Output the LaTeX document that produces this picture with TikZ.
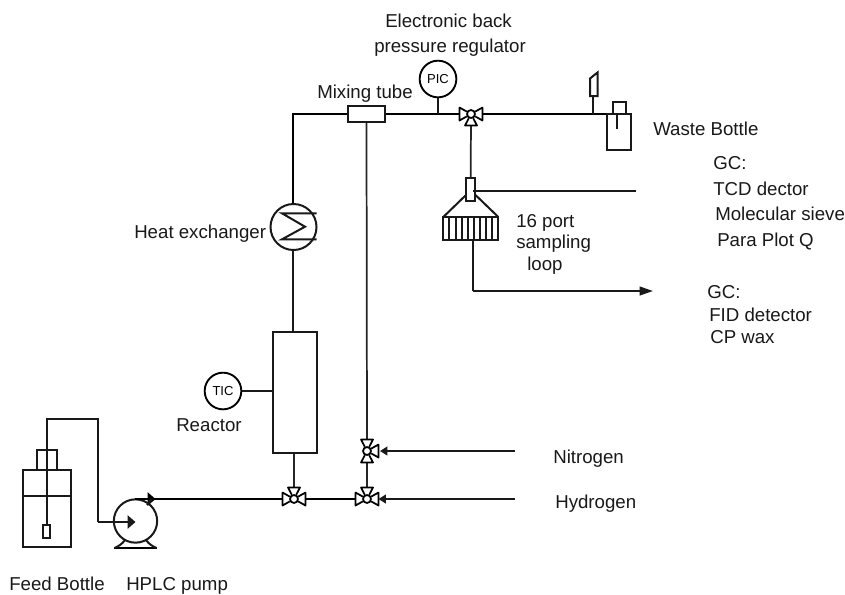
\documentclass[tikz,border=0pt]{standalone}
\usepackage{fontspec}
\setmainfont{Liberation Sans}
\usetikzlibrary{arrows.meta}
\tikzset{
 pipe/.style={line width=1.5pt,draw=black!90},
 thin pipe/.style={line width=1.3pt,draw=black!85},
 thick pipe/.style={line width=1.9pt,draw=black},
 flow/.style={-{Triangle[length=5.5pt,width=6.5pt]}},
 bigflow/.style={-{Triangle[length=6pt,width=10pt]}},
 longflow/.style={-{Triangle[length=10pt,width=6.5pt]}},
 lbl/.style={font=\fontsize{14pt}{16pt}\selectfont,anchor=base west,inner sep=0pt,text=black!90},
 inst/.style={circle,draw=black,line width=1.4pt,minimum size=27.5pt,inner sep=0pt,fill=white,font=\fontsize{9.75pt}{10pt}\selectfont},
 valvepart/.style={line width=1.3pt,draw=black,fill=white,line join=round},
 pics/hub/.style={code={
   \fill[white] (0,0) circle (5);
   \draw[line width=1.3pt] (0,0) circle (4);
 }},
 pics/tleft/.style={code={\draw[valvepart] (0,0)--(-11.5,-6.5)--(-11.5,6.5)--cycle;}},
 pics/tright/.style={code={\draw[valvepart] (0,0)--(11.5,-6.5)--(11.5,6.5)--cycle;}},
 pics/ttop/.style={code={\draw[valvepart] (0,0)--(-6,-11.5)--(6,-11.5)--cycle;}},
 pics/tbottom/.style={code={\draw[valvepart] (0,0)--(-6,11.5)--(6,11.5)--cycle;}},
}
\begin{document}
\begin{tikzpicture}[x=0.75pt,y=-0.75pt]
\useasboundingbox (0,0) rectangle (845,594);
\fill[white] (0,0) rectangle (845,594);
% named points
\coordinate (corner) at (293,114);
\coordinate (vtop) at (471,114);
\coordinate (vN) at (367,451);
\coordinate (vH) at (367,499);
\coordinate (vR) at (294,499);
\coordinate (bottleIn) at (607,114);
\coordinate (ventJ) at (593,114);
\coordinate (picJ) at (438,114);
\coordinate (pumpTop) at (135,499);
\coordinate (pumpOut) at (155.5,499);
\coordinate (n2in) at (515,451);
\coordinate (n2tip) at (380,451);
\coordinate (h2in) at (515,499);
\coordinate (h2tip) at (378.5,499);
\coordinate (tcdStart) at (473,191);
\coordinate (tcdEnd) at (636,191);
\coordinate (fidEnd) at (653,291);
\coordinate (fidBend) at (473.3,291);
\coordinate (fidStart) at (473.3,240);
\node[draw,pipe,minimum width=27.75pt,minimum height=12pt,inner sep=0pt] (mix) at (366.5,114) {};
\node[inst] (pic) at (438,79) {PIC};
\node[circle,draw,pipe,minimum size=34.5pt,inner sep=0pt] (hx) at (293.5,227) {};
\node[draw,pipe,minimum width=33pt,minimum height=90.75pt,inner sep=0pt] (reactor) at (294.7,392) {};
\node[inst] (tic) at (223,391) {TIC};
\node[circle,draw,pipe,minimum size=32.5pt,inner sep=0pt] (pump) at (135.5,521) {};
\node[draw,pipe,minimum width=6.75pt,minimum height=17.25pt,inner sep=0pt] (tube) at (470.7,189.5) {};
\node[draw,pipe,minimum width=41.25pt,minimum height=17.5pt,inner sep=0pt] (loop) at (470.8,228.3) {};
% pipes
\draw[thick pipe] (hx.north -| corner) -- (corner) -- (mix.west);
\draw[thick pipe] (mix.east) -- (vtop) -- (bottleIn);
\draw[pipe] (pic.south) -- (picJ);
\draw[pipe] (hx.south -| corner) -- (reactor.north -| corner);
\draw[pipe] (tic.east) -- (tic.east -| reactor.west);
\draw[thin pipe] (mix.south) -- (vN);
\draw[thin pipe] (vN) -- (vH);
\draw[thin pipe] (reactor.south -| vR) -- (vR);
\draw[thin pipe] (vtop) -- (tube.north);
\draw[thick pipe] (pumpTop) -- (vR) -- (vH);
% flows
\draw[pipe,flow] (h2in) -- (h2tip);
\draw[pipe,flow] (n2in) -- (n2tip);
\draw[thick pipe,bigflow] (pumpTop) -- (pumpOut);
% heat exchanger coil
\coordinate (hxA) at (316.5,213.3); \coordinate (hxB) at (282,213.3);
\coordinate (hxC) at (305,226.7); \coordinate (hxD) at (282,239.3); \coordinate (hxE) at (316.5,239.3);
\draw[pipe,line join=miter] (hxA)--(hxB)--(hxC)--(hxD)--(hxE);
% feed bottle
\node[draw,pipe,minimum width=36pt,minimum height=57.75pt,inner sep=0pt] (bottle) at (46.7,508.5) {};
\node[draw,pipe,minimum width=15pt,minimum height=15pt,inner sep=0pt] (cap) at (46.7,460) {};
\draw[pipe] (bottle.west |- 0,496) -- (bottle.east |- 0,496);
\node[draw,pipe,minimum width=5pt,minimum height=9.5pt,inner sep=0pt] (dip) at (46.7,531.5) {};
\coordinate (feedA) at (46.7,419); \coordinate (feedB) at (98,419); \coordinate (feedC) at (98,522);
\coordinate (feedTip) at (135.5,522);
\draw[pipe] (dip.north) -- (feedA) -- (feedB) -- (feedC);
\draw[pipe,bigflow] (feedC) -- (feedTip);
\draw[thick pipe] (114,548) -- (157,548);
\draw[pipe] (114.5,548) .. controls (119,546) and (122,544) .. (125,540);
\draw[pipe] (156.5,548) .. controls (152,546) and (149,544) .. (146,540);
\draw[pipe] (147,505) -- (152,499);
% waste
\node[draw,pipe,minimum width=18pt,minimum height=27pt,inner sep=0pt] (waste) at (619,132) {};
\node[draw,pipe,minimum width=9.5pt,minimum height=9.5pt,inner sep=0pt] (wcap) at (619.3,108) {};
\coordinate (wdip) at (617,129);
\draw[pipe] (617,114) -- (wdip);
\draw[pipe] (ventJ) -- (593,96);
\draw[pipe,line join=miter] (590,96) -- (597.5,96) -- (597.5,72.5) -- (590,78.5) -- cycle;
% sampling loop
\draw[pipe] (466,195) -- (443.8,216.5);
\draw[pipe] (475.5,195) -- (497.8,216.5);
\draw[pipe] (tcdStart) -- (tcdEnd);
\foreach \x in {449.3,455.5,461.6,467.7,473.8,480,486,492}{\draw[pipe] (\x,217) -- (\x,240);}
\draw[pipe] (fidStart) -- (fidBend);
\draw[pipe,longflow] (fidBend) -- (fidEnd);
% valves
\pic at (vtop) {tleft};
\pic at (vtop) {tright};
\pic at (vtop) {tbottom};
\pic at (vtop) {hub};
\pic at (vN) {ttop};
\pic at (vN) {tbottom};
\pic at (vN) {tright};
\pic at (vN) {hub};
\pic at (vH) {tleft};
\pic at (vH) {tright};
\pic at (vH) {ttop};
\pic at (vH) {hub};
\pic at (vR) {tleft};
\pic at (vR) {tright};
\pic at (vR) {ttop};
\pic at (vR) {hub};
% labels
\node[lbl] (t1) at (385,27) {Electronic back};
\node[lbl] (t2) at (374,52) {pressure regulator};
\node[lbl] (t3) at (317,98) {Mixing tube};
\node[lbl] (t4) at (653,135) {Waste Bottle};
\node[lbl] (t5) at (713,169) {GC:};
\node[lbl] (t6) at (713,195) {TCD dector};
\node[lbl] (t7) at (715,220) {Molecular sieve};
\node[lbl] (t8) at (717,246) {Para Plot Q};
\node[lbl] (t9) at (516,227) {16 port};
\node[lbl] (t10) at (516,248) {sampling};
\node[lbl] (t11) at (527,270) {loop};
\node[lbl] (t12) at (707,298) {GC:};
\node[lbl] (t13) at (709,321) {FID detector};
\node[lbl] (t14) at (710,343) {CP wax};
\node[lbl] (t15) at (553,463) {Nitrogen};
\node[lbl] (t16) at (555,508) {Hydrogen};
\node[lbl] (t17) at (134,238) {Heat exchanger};
\node[lbl] (t18) at (176,431) {Reactor};
\node[lbl] (t19) at (9,590.5) {Feed Bottle};
\node[lbl] (t20) at (126,590.5) {HPLC pump};
\end{tikzpicture}
\end{document}
